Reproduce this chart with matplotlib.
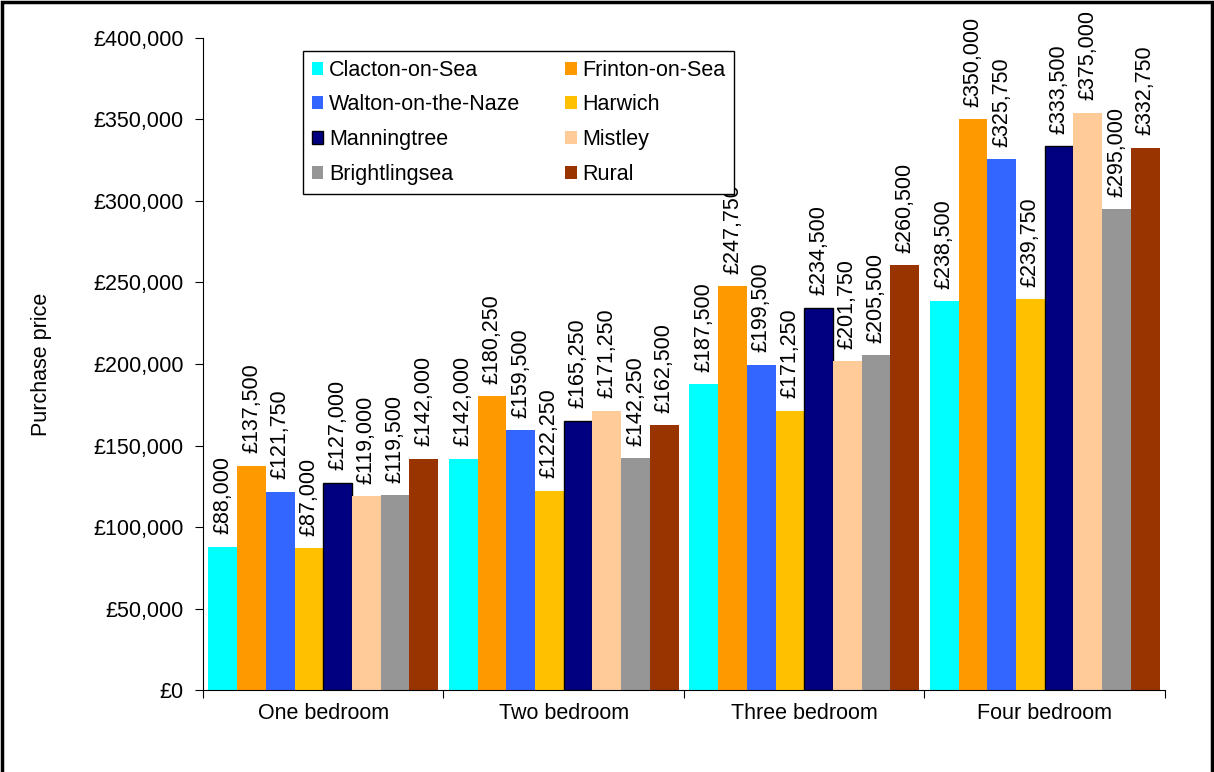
import matplotlib
matplotlib.use("Agg")
import matplotlib.pyplot as plt
import numpy as np
from matplotlib.patches import Rectangle

plt.rcParams['font.family'] = ['Liberation Sans', 'DejaVu Sans']

# データ
categories = ['One bedroom', 'Two bedroom', 'Three bedroom', 'Four bedroom']
towns = ['Clacton-on-Sea', 'Frinton-on-Sea', 'Walton-on-the-Naze', 'Harwich',
         'Manningtree', 'Mistley', 'Brightlingsea', 'Rural']
clacton = [88000, 142000, 187500, 238500]
frinton = [137500, 180250, 247750, 350000]
walton = [121750, 159500, 199500, 325750]
harwich = [87000, 122250, 171250, 239750]
manningtree = [127000, 165250, 234500, 333500]
mistley = [119000, 171250, 201750, 354000]   # bar as drawn in the picture
brightlingsea = [119500, 142250, 205500, 295000]
rural = [142000, 162500, 260500, 332750]
# labels as printed (Mistley four bedroom reads £375,000)
mistley_labels = [119000, 171250, 201750, 375000]

series = [clacton, frinton, walton, harwich, manningtree, mistley, brightlingsea, rural]
label_values = [clacton, frinton, walton, harwich, manningtree, mistley_labels, brightlingsea, rural]
colors = ['#00FFFF', '#FF9900', '#3366FF', '#FFC000',
          '#000080', '#FFCC99', '#969696', '#993300']

fs = 15.5

fig = plt.figure(figsize=(12.14, 7.72), dpi=100)
ax = fig.add_axes([0.1672, 0.1062, 0.7924, 0.8446])

x = np.arange(len(categories))
n = len(series)
w = 0.955 / n
handles = []
for i, (vals, labs, c) in enumerate(zip(series, label_values, colors)):
    pos = x + (i - (n - 1) / 2) * w
    if c == '#000080':
        b = ax.bar(pos, vals, w, color=c, edgecolor='black', linewidth=1, label=towns[i], zorder=2)
    else:
        b = ax.bar(pos, vals, w, color=c, edgecolor='none', label=towns[i], zorder=2)
    handles.append(b)
    for p, v, lab in zip(pos, vals, labs):
        ax.annotate(f'£{lab:,}', (p, v), xytext=(0, 9), textcoords='offset points',
                    rotation=90, ha='center', va='bottom', fontsize=fs,
                    bbox=dict(boxstyle='square,pad=0.1', fc='white', ec='none'),
                    zorder=3)

ax.set_ylim(0, 400000)
ax.set_xlim(-0.5, len(categories) - 0.5)
ax.set_yticks(np.arange(0, 400001, 50000))
ax.set_yticklabels([f'£{int(v):,}' for v in np.arange(0, 400001, 50000)], fontsize=fs)
ax.set_xticks(np.arange(-0.5, len(categories), 1.0))
ax.set_xticklabels([])
ax.set_xticks(x, minor=True)
ax.set_xticklabels(categories, minor=True, fontsize=fs)
ax.tick_params(axis='x', which='minor', length=0, pad=9)
ax.tick_params(axis='x', which='major', length=6, direction='out')
ax.tick_params(axis='y', length=6, direction='out', pad=8)
ax.spines['top'].set_visible(False)
ax.spines['right'].set_visible(False)
ax.set_ylabel('Purchase price', fontsize=fs)
ax.yaxis.set_label_coords(-0.157, 0.5)

# 凡例 (行ごとの並びに合わせる)
order = [0, 2, 4, 6, 1, 3, 5, 7]
leg = ax.legend([handles[k] for k in order], [towns[k] for k in order], ncol=2,
                loc='upper left', bbox_to_anchor=(0.104, 0.98), fontsize=fs,
                frameon=True, fancybox=False, edgecolor='black', framealpha=1,
                handlelength=0.55, handleheight=0.55, handletextpad=0.25,
                labelspacing=0.64, columnspacing=2.1, borderpad=0.4, borderaxespad=0)
leg.get_frame().set_linewidth(1)

# 外枠
fig.add_artist(Rectangle((0.0015, -0.05), 0.997, 1.0475, transform=fig.transFigure,
                         fill=False, edgecolor='black', linewidth=2.5, clip_on=False))

plt.savefig('out.png', dpi=100)
